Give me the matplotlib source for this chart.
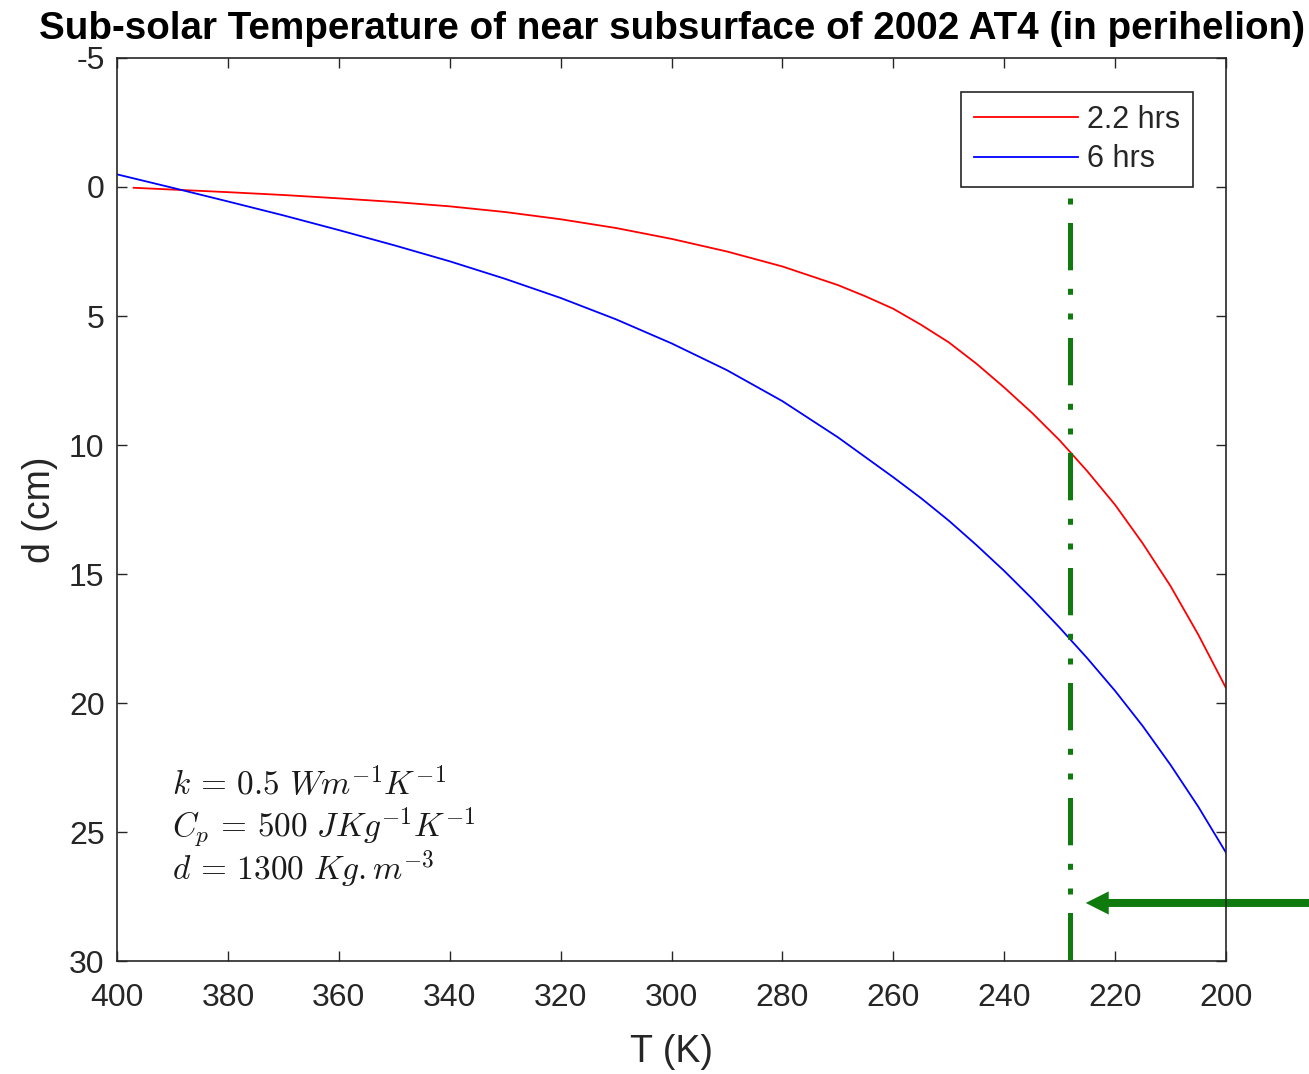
# Sub-solar temperature profile of 2002 AT4 near subsurface (perihelion)
import numpy as np
import matplotlib
matplotlib.use("Agg")
import matplotlib.pyplot as plt

# ------------------------------------------
# DATA
# ------------------------------------------

# 2.2 hrs curve: temperature (K) and depth (cm)
red_T = [397, 390, 380, 370, 360, 350, 340, 330, 320, 310, 300,
         290, 280, 270, 265, 260, 255, 250, 245, 240, 235, 230,
         225, 220, 215, 210, 205, 200]
red_d = [0.03, 0.10, 0.20, 0.31, 0.44, 0.58, 0.75, 0.97, 1.25, 1.59, 2.01,
         2.50, 3.08, 3.80, 4.24, 4.72, 5.34, 6.02, 6.85, 7.77, 8.75, 9.82,
         11.02, 12.32, 13.82, 15.47, 17.35, 19.42]

# 6 hrs curve
blue_T = [400, 390, 380, 370, 360, 350, 340, 330, 320, 310, 300,
          290, 280, 270, 260, 255, 250, 245, 240, 235, 230,
          225, 220, 215, 210, 205, 200]
blue_d = [-0.49, 0.03, 0.56, 1.10, 1.67, 2.26, 2.88, 3.56, 4.30, 5.13, 6.06,
          7.10, 8.30, 9.70, 11.25, 12.06, 12.93, 13.88, 14.88, 15.95, 17.08,
          18.27, 19.53, 20.90, 22.40, 24.02, 25.80]

series_labels = ["2.2 hrs", "6 hrs"]

# vertical marker and arrow
marker_T = 228.1
marker_d = [0, 30]
arrow_T = [184.5, 225.3]   # tail, tip
arrow_d = 27.75

param_lines = [r"$k\,=\,0.5\ Wm^{-1}K^{-1}$",
               r"$C_p\,=\,500\ JKg^{-1}K^{-1}$",
               r"$d\,=\,1300\ Kg.m^{-3}$"]
param_T = 390.1
param_d = [23.15, 24.8, 26.45]

x_ticks = list(range(400, 199, -20))
y_ticks = list(range(-5, 31, 5))

# ------------------------------------------
# STYLE
# ------------------------------------------
plt.rcParams['font.family'] = ['Liberation Sans', 'DejaVu Sans']
plt.rcParams['mathtext.fontset'] = 'cm'
plt.rcParams['axes.unicode_minus'] = False
axis_gray = '#262626'
green = '#0f7b0f'

fig = plt.figure(figsize=(13.09, 10.74), dpi=100)
ax = fig.add_axes([0.0894, 0.1052, 0.8472, 0.8408])

ax.plot(red_T, red_d, color='#ff0000', lw=1.3, label=series_labels[0])
ax.plot(blue_T, blue_d, color='#0000ff', lw=1.3, label=series_labels[1])

ax.plot([marker_T, marker_T], marker_d, color=green, lw=3.6,
        linestyle=(15.9, (9.46, 3.7, 1.2, 3.74, 1.2, 3.7)))

ax.arrow(arrow_T[0], arrow_d, arrow_T[1] - arrow_T[0], 0,
         width=0.31, head_width=0.9, head_length=4.15,
         length_includes_head=True, color=green, lw=0, clip_on=False)

for txt, dd in zip(param_lines, param_d):
    ax.text(param_T, dd, txt, fontsize=24, ha='left', va='center', color='#1a1a1a')

ax.set_xlim(400, 200)
ax.set_ylim(30, -5)
ax.set_xticks(x_ticks)
ax.set_yticks(y_ticks)

ax.tick_params(direction='in', length=7, width=1.0, top=True, right=True,
               colors=axis_gray, labelsize=23)
ax.tick_params(axis='x', pad=16)
ax.tick_params(axis='y', pad=9)
for sp in ax.spines.values():
    sp.set_color(axis_gray)
    sp.set_linewidth(1.2)

ax.set_xlabel("T (K)", fontsize=27, color=axis_gray, labelpad=15)
ax.set_ylabel("d (cm)", fontsize=27, color=axis_gray, labelpad=8)

ax.set_title("Sub-solar Temperature of near subsurface of 2002 AT4 (in perihelion)",
             fontsize=27.8, fontweight='bold', pad=14)

leg = ax.legend(loc='upper right', bbox_to_anchor=(0.970, 0.962), fontsize=22,
                handlelength=3.4, handletextpad=0.3, labelspacing=0.3,
                borderpad=0.42, borderaxespad=0, fancybox=False, framealpha=1)
leg.get_frame().set_edgecolor(axis_gray)
leg.get_frame().set_linewidth(1.2)
for t in leg.get_texts():
    t.set_color(axis_gray)

plt.savefig("out.png", dpi=100)
